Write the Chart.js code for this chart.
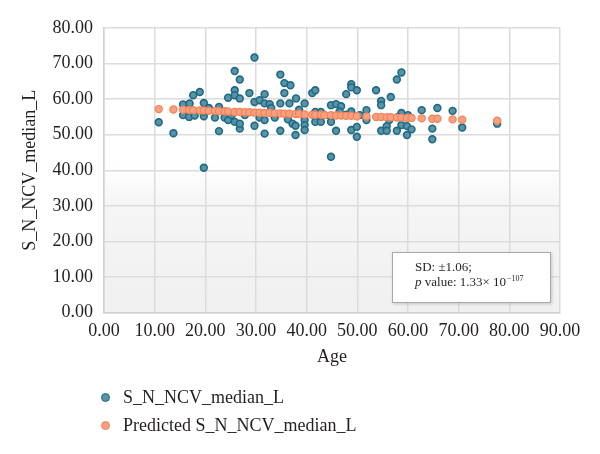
<!DOCTYPE html>
<html>
<head>
<meta charset="utf-8">
<script src="https://cdn.jsdelivr.net/npm/chart.js@4.4.1/dist/chart.umd.min.js"></script>
<style>
  html, body { margin: 0; padding: 0; background: #ffffff; }
  #wrap { position: relative; width: 600px; height: 454px; }
  #c { position: absolute; left: 0; top: 0; }
  .leg { position: absolute; left: 101px; font-family: "Liberation Serif", "DejaVu Serif", serif; font-size: 18px; color: #231f20; white-space: nowrap; }
  .leg .dot { position: absolute; left: 0; top: 50%; width: 7px; height: 7px; margin-top: -4px; border-radius: 50%; }
  .leg span.t { position: absolute; left: 22px; top: 0; transform: translateY(-50%); }
</style>
</head>
<body>
<div id="wrap">
  <canvas id="c" width="600" height="454"></canvas>
  <div class="leg" id="leg0" style="top:397px"><div class="dot"></div><span class="t"></span></div>
  <div class="leg" id="leg1" style="top:425px"><div class="dot"></div><span class="t"></span></div>
</div>
<script>
// ---- data ----
const seriesNames = ["S_N_NCV_median_L", "Predicted S_N_NCV_median_L"];
const xTitle = "Age";
const yTitle = "S_N_NCV_median_L";
const xTicks = [0, 10, 20, 30, 40, 50, 60, 70, 80, 90];
const yTicks = [0, 10, 20, 30, 40, 50, 60, 70, 80];

const blueAges = [10.8, 13.7, 15.6, 15.6, 16.9, 16.8, 17.6, 17.9, 18.9, 19.7, 19.7, 19.7, 19.7, 20.7, 21.9, 22.7, 22.7, 23.8, 24.5, 24.5, 25.2,
  25.8, 26.8, 25.8, 25.8, 26.8, 28.7, 25.8, 26.8, 26.8, 27.8, 29.7, 29.7, 29.7, 30.7, 30.7, 31.7, 31.7, 31.7, 31.7, 32.7, 33.0, 33.7,
  34.8, 35.6, 36.8, 35.6, 34.8, 36.6, 37.9, 39.6, 34.8, 36.3, 37.2, 37.8, 37.8, 38.5, 39.6, 39.6, 39.6, 41.1, 41.7, 41.7, 41.7, 41.7,
  42.8, 42.8, 43.5, 44.8, 45.8, 46.8, 44.8, 44.8, 45.8, 44.8, 46.5, 47.8, 48.8, 48.8, 49.9, 47.8, 48.8, 48.8, 49.9, 49.9, 50.5, 51.8,
  51.8, 53.7, 54.7, 54.7, 56.6, 54.7, 55.8, 55.8, 56.3, 57.8, 58.7, 58.7, 57.8, 58.0, 58.7, 59.8, 59.8, 60.0, 60.7, 62.7, 65.8, 64.8,
  64.8, 68.8, 70.7, 77.6];
const blueValues = [53.5, 50.4, 58.5, 55.5, 58.8, 55.0, 61.1, 55.4, 62.0, 58.9, 55.2, 40.7, 56.5, 57.5, 54.8, 57.8, 51.0, 54.8, 60.4, 54.1, 55.5,
  67.9, 65.5, 62.5, 61.1, 60.2, 61.7, 53.6, 51.7, 53.1, 55.5, 71.7, 59.2, 52.5, 59.7, 54.8, 61.4, 58.8, 54.1, 50.3, 58.6, 57.5, 54.8,
  66.9, 64.5, 63.9, 61.7, 58.8, 58.8, 60.2, 58.8, 51.1, 54.3, 53.1, 52.5, 49.9, 57.0, 54.1, 52.7, 51.3, 61.7, 62.5, 56.4, 55.0, 53.6,
  56.4, 53.6, 55.5, 58.3, 58.6, 58.0, 55.0, 53.6, 51.1, 43.8, 56.5, 61.4, 64.2, 63.3, 62.5, 55.6, 56.5, 51.3, 52.2, 49.4, 55.5, 56.9,
  54.1, 62.5, 59.5, 58.3, 60.6, 51.1, 52.4, 51.1, 54.1, 65.5, 67.5, 56.1, 51.1, 55.0, 52.7, 52.4, 49.9, 55.5, 51.5, 56.9, 57.5, 51.7,
  48.7, 56.7, 52.0, 53.1];

const predAges = [10.8, 13.7, 15.6, 16.8, 17.6, 18.9, 19.7, 20.7, 21.9, 22.7, 23.8, 24.5, 25.8, 26.8, 27.8, 28.7, 29.7, 30.7, 31.7, 32.7,
  33.7, 34.8, 35.6, 36.6, 37.8, 38.5, 39.6, 41.1, 41.7, 42.8, 43.5, 44.8, 45.8, 46.8, 47.8, 48.8, 49.9, 51.8, 53.7, 54.7, 55.8, 56.6,
  57.8, 58.7, 59.8, 60.7, 62.7, 64.8, 65.8, 68.8, 70.7, 77.6];
const predValues = [57.2, 57.1, 57.0, 56.9, 56.9, 56.8, 56.8, 56.7, 56.7, 56.6, 56.6, 56.5, 56.4, 56.4, 56.3, 56.3, 56.2, 56.2, 56.1, 56.1,
  56.0, 56.0, 55.9, 55.9, 55.8, 55.8, 55.7, 55.6, 55.6, 55.6, 55.5, 55.5, 55.4, 55.4, 55.3, 55.3, 55.2, 55.1, 55.0, 55.0, 54.9, 54.9,
  54.8, 54.8, 54.7, 54.7, 54.6, 54.5, 54.5, 54.3, 54.2, 53.9];

const noteLine1 = "SD: \u00b11.06;";
const noteP = "p";
const noteLine2 = " value: 1.33\u00d7 10";
const noteExp = "\u2212107";

// ---- styling ----
const FONT = '"Liberation Serif", "DejaVu Serif", serif';
const TXT = '#231f20';
const blueFill = '#5b93a6', blueEdge = '#1d6a84';
const orgFill = '#f7a07e', orgEdge = '#f2825a';

const bluePts = blueAges.map((a, i) => ({x: a, y: blueValues[i]}));
const predPts = predAges.map((a, i) => ({x: a, y: predValues[i]}));

const bgPlugin = {
  id: 'bg',
  beforeDraw(chart) {
    const {ctx, chartArea: a} = chart;
    const g = ctx.createLinearGradient(0, a.top, 0, a.bottom);
    g.addColorStop(0, '#ffffff');
    g.addColorStop(0.48, '#ffffff');
    g.addColorStop(0.62, '#f5f5f5');
    g.addColorStop(1, '#f0f0f0');
    ctx.save();
    ctx.fillStyle = g;
    ctx.fillRect(a.left, a.top, a.right - a.left, a.bottom - a.top);
    ctx.restore();
  }
};

const notePlugin = {
  id: 'note',
  afterDraw(chart) {
    const {ctx} = chart;
    const xs = chart.scales.x, ys = chart.scales.y;
    const x0 = Math.round(xs.getPixelForValue(56.8)), x1 = Math.round(xs.getPixelForValue(88.2));
    const y0 = Math.round(ys.getPixelForValue(17.0)), y1 = Math.round(ys.getPixelForValue(2.7));
    ctx.save();
    ctx.shadowColor = 'rgba(0,0,0,0.18)';
    ctx.shadowBlur = 3;
    ctx.shadowOffsetX = 1;
    ctx.shadowOffsetY = 1;
    ctx.fillStyle = '#ffffff';
    ctx.fillRect(x0, y0, x1 - x0, y1 - y0);
    ctx.shadowColor = 'transparent';
    ctx.strokeStyle = '#a8a8a8';
    ctx.lineWidth = 1;
    ctx.strokeRect(x0 + 0.5, y0 + 0.5, x1 - x0 - 1, y1 - y0 - 1);
    ctx.fillStyle = TXT;
    ctx.textBaseline = 'middle';
    ctx.textAlign = 'left';
    const tx = x0 + 23;
    ctx.font = '13px ' + FONT;
    ctx.fillText(noteLine1, tx, y0 + 16);
    ctx.font = 'italic 13px ' + FONT;
    ctx.fillText(noteP, tx, y0 + 31);
    let w = ctx.measureText(noteP).width;
    ctx.font = '13px ' + FONT;
    ctx.fillText(noteLine2, tx + w, y0 + 31);
    w += ctx.measureText(noteLine2).width;
    ctx.font = '8px ' + FONT;
    ctx.fillText(noteExp, tx + w + 1, y0 + 27);
    ctx.restore();
  }
};

new Chart(document.getElementById('c'), {
  type: 'scatter',
  data: {
    datasets: [
      { label: seriesNames[1], data: predPts, order: 0,
        backgroundColor: orgFill, borderColor: orgEdge, borderWidth: 1.2, pointRadius: 3.6 },
      { label: seriesNames[0], data: bluePts, order: 1,
        backgroundColor: blueFill, borderColor: blueEdge, borderWidth: 1.6, pointRadius: 3.4 }
    ]
  },
  options: {
    responsive: false,
    animation: false,
    layout: { padding: { left: 0, right: 40, top: 28, bottom: 79 } },
    plugins: { legend: { display: false }, tooltip: { enabled: false } },
    scales: {
      x: {
        type: 'linear', min: 0, max: 90,
        afterBuildTicks(s) { s.ticks = xTicks.map(v => ({value: v})); },
        afterFit(s) { s.height = 62.5; },
        grid: { color: '#dcdcdc', lineWidth: 1.5, drawTicks: false },
        border: { display: true, color: '#d0d0d0', width: 1.5 },
        ticks: { padding: 8, color: TXT, font: { family: FONT, size: 18 }, maxRotation: 0,
          callback: v => Number(v).toFixed(2) },
        title: { display: true, text: xTitle, color: TXT, font: { family: FONT, size: 18 }, padding: { top: 0, bottom: 7 } }
      },
      y: {
        type: 'linear', min: 0, max: 80,
        afterBuildTicks(s) { s.ticks = yTicks.map(v => ({value: v})); },
        afterFit(s) { s.width = 104; },
        grid: { color: '#dcdcdc', lineWidth: 1.5, drawTicks: false },
        border: { display: true, color: '#d0d0d0', width: 1.5 },
        ticks: { padding: 11, color: TXT, font: { family: FONT, size: 18 },
          callback: v => Number(v).toFixed(2) },
        title: { display: true, text: yTitle, color: TXT, font: { family: FONT, size: 18 }, padding: { top: 19, bottom: 0 } }
      }
    }
  },
  plugins: [bgPlugin, notePlugin]
});

// HTML legend (vertical, bottom-left) built from the series names
const legCols = [[blueFill, blueEdge], [orgFill, orgEdge]];
[0, 1].forEach(i => {
  const el = document.getElementById('leg' + i);
  const dot = el.querySelector('.dot');
  dot.style.background = legCols[i][0];
  dot.style.border = '1px solid ' + legCols[i][1];
  el.querySelector('.t').textContent = seriesNames[i];
});
</script>
</body>
</html>
